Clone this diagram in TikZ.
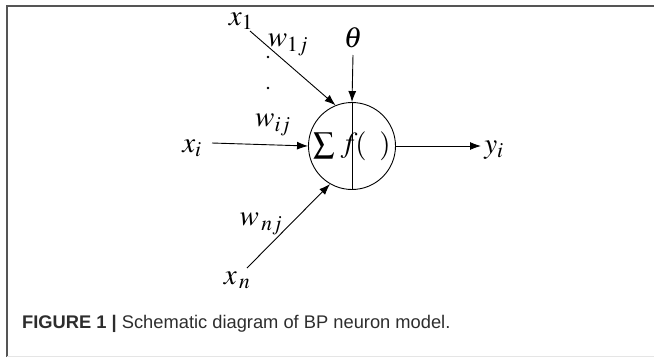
\documentclass[tikz,border=0pt]{standalone}
\usepackage{mathptmx}
\usepackage{fontspec}
\newfontfamily\capfont{Liberation Sans}
\usetikzlibrary{arrows.meta}
\definecolor{framecol}{RGB}{85,85,85}
\definecolor{capcol}{RGB}{45,45,45}

\begin{document}
\begin{tikzpicture}[x=1pt,y=-1pt,
  wire/.style={line width=0.9pt},
  arr/.style={wire,-{Latex[length=11pt,width=8pt]}},
  lab/.style={font=\fontsize{29}{31}\selectfont, inner sep=0pt}]
  \useasboundingbox (0,0) rectangle (654,357);
  % frame of the figure
  \draw[framecol, line width=1.6pt] (7,357) -- (7,6) -- (654,6);
  \draw[black!10, line width=0.6pt] (7,356.5) -- (654,356.5);

  % neuron
  \node[draw, circle, wire, minimum size=87pt, inner sep=0pt] (neuron) at (352,146) {};
  \draw[wire] (neuron.north) -- (neuron.south);
  \node[lab, font=\fontsize{21}{24}\selectfont] (sum) at (324,146) {$\displaystyle\sum$};
  \node[lab] (fsym) at (349,146) {$f$};
  \node[lab] (paren) at (373,146) {$(\;\;)$};

  % inputs
  \node[lab] (x1) at (241,21) {$x_{1}$};
  \node[lab] (xi) at (192,148) {$x_{i}$};
  \node[lab] (xn) at (237,280) {$x_{\,n}$};
  \coordinate (x1s) at (250,31);
  \coordinate (xis) at (212,143);
  \coordinate (xns) at (247,268);
  \draw[arr] (x1s) -- (neuron.112);
  \draw[arr] (xis) -- (neuron.west);
  \draw[arr] (xns) -- (neuron.240);

  % weights
  \node[lab] (w1) at (288,45) {$w_{1j}$};
  \node[lab] (wi) at (273,125) {$w_{ij}$};
  \node[lab] (wn) at (261,224) {$w_{\,nj}$};
  \foreach \d/\y in {dot1/57, dot2/88}{
    \node[circle, fill, inner sep=0pt, minimum size=2.6pt] (\d) at (268,\y) {};
  }

  % threshold and output
  \node[lab] (theta) at (353,38) {$\theta$};
  \coordinate (thetas) at (353,55);
  \draw[arr] (thetas) -- (neuron.north);
  \coordinate (outs) at (481,146);
  \draw[arr] (neuron.east) -- (outs);
  \node[lab] (yi) at (494,150) {$y_{i}$};

  % caption
  \node[anchor=base west, inner sep=0pt, text=capcol, font=\capfont\fontsize{18.3}{21}\selectfont]
    (cap) at (22,328) {\textbf{FIGURE 1 |} Schematic diagram of BP neuron model.};
\end{tikzpicture}
\end{document}
